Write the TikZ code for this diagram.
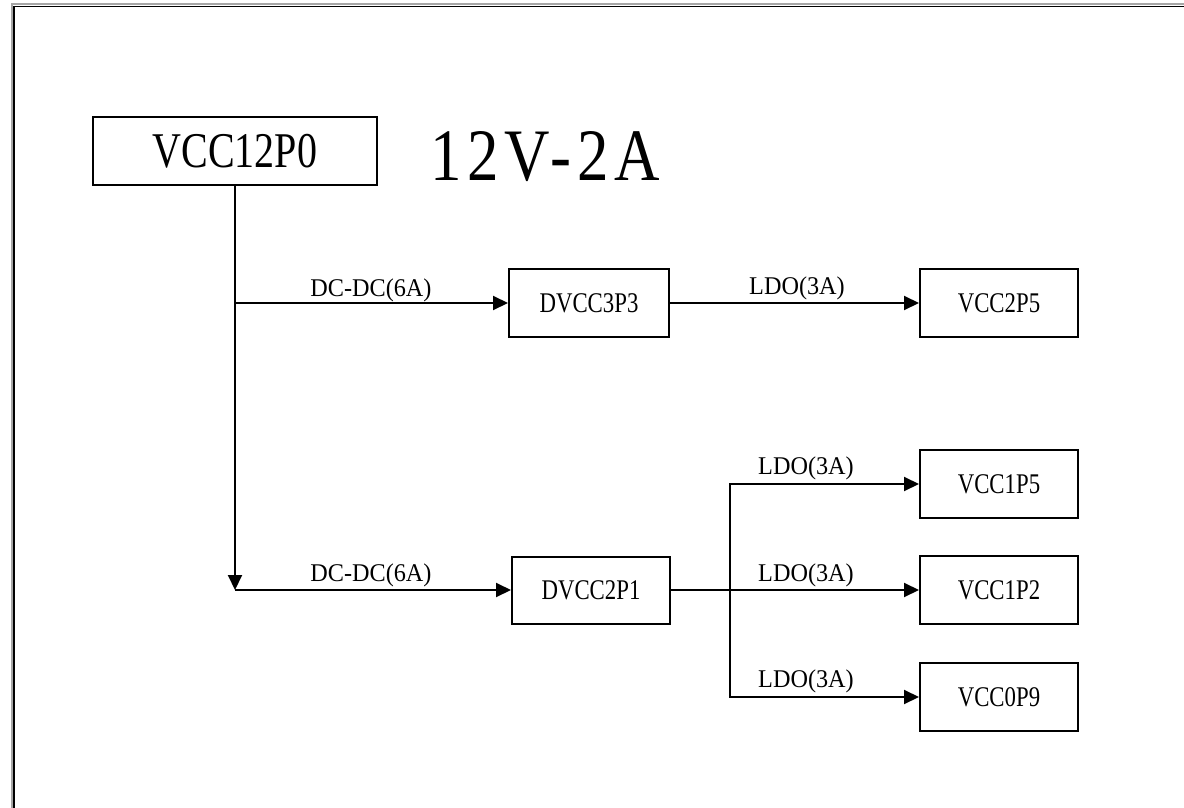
\documentclass[tikz,border=0pt]{standalone}
\usepackage{fontspec}
\setmainfont{Liberation Serif}
\newfontfamily\boxfont[FakeStretch=0.8]{Liberation Serif}
\newfontfamily\lblfont[FakeStretch=0.95]{Liberation Serif}
\newfontfamily\titlefont[FakeStretch=0.85,LetterSpace=8]{Liberation Serif}
\usetikzlibrary{arrows.meta}
\begin{document}
\begin{tikzpicture}[x=1pt,y=-1pt,
  blk/.style={draw,line width=2pt,rectangle,inner sep=0pt,minimum width=158pt,minimum height=68pt,
    font=\boxfont\fontsize{28.5}{30}\selectfont},
  conn/.style={line width=2pt},
  arr/.style={line width=2pt,-{Triangle[length=15pt,width=14pt]}},
  lbl/.style={anchor=base,inner sep=0pt,font=\lblfont\fontsize{25.5}{27}\selectfont}]
\useasboundingbox (0,0) rectangle (1184,808);
\fill[white] (0,0) rectangle (1184,808);
% frame
\draw[gray!70,line width=2pt] (11.5,808) -- (11.5,4) -- (1184,4);
\draw[black,line width=1.5pt] (14,808) -- (14,6.5) -- (1184,6.5);
% nodes
\node[blk,minimum width=284pt,minimum height=68pt,font=\boxfont\fontsize{50}{52}\selectfont] (v12) at (235,151) {VCC12P0};
\node[anchor=base,inner sep=0pt,font=\titlefont\fontsize{74}{76}\selectfont] (title) at (545,180) {12V-2A};
\node[blk,minimum width=160pt] (d33) at (589,303) {DVCC3P3};
\node[blk] (v25) at (999,303) {VCC2P5};
\node[blk,minimum height=67pt] (d21) at (591,590) {DVCC2P1};
\node[blk] (v15) at (999,484) {VCC1P5};
\node[blk] (v12b) at (999,590) {VCC1P2};
\node[blk] (v09) at (999,697) {VCC0P9};
% junctions
\coordinate (j1) at (235,303);
\coordinate (j2) at (235,590);
\coordinate (j3) at (730,590);
% connectors
\draw[arr] (v12.south) -- (j2);
\draw[arr] (j1) -- (d33.west);
\draw[arr] (j2) -- (d21.west);
\draw[arr] (d33.east) -- (v25.west);
\draw[conn] (d21.east) -- (j3);
\draw[arr] (j3) |- (v15.west);
\draw[arr] (j3) -- (v12b.west);
\draw[arr] (j3) |- (v09.west);
% labels
\node[lbl] (l1) at (371,296) {DC-DC(6A)};
\node[lbl] (l2) at (371,581) {DC-DC(6A)};
\node[lbl] (l3) at (797,294) {LDO(3A)};
\node[lbl] (l4) at (806,474) {LDO(3A)};
\node[lbl] (l5) at (806,581) {LDO(3A)};
\node[lbl] (l6) at (806,687) {LDO(3A)};
\end{tikzpicture}
\end{document}
